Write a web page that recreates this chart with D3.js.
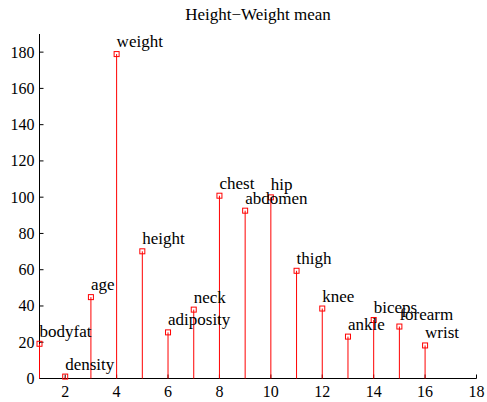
<!DOCTYPE html>
<html>
<head>
<meta charset="utf-8">
<script src="https://cdn.jsdelivr.net/npm/d3@7"></script>
</head>
<body style="margin:0;padding:0;background:#fff;">
<svg id="chart" width="487" height="402" style="display:block" font-family="Times New Roman"></svg>
<script>
const title = "Height\u2212Weight mean";
const names = ["bodyfat","density","age","weight","height","adiposity","neck","chest","abdomen","hip","thigh","knee","ankle","biceps","forearm","wrist"];
const means = [19.15,1.06,44.88,178.92,70.15,25.44,37.99,100.82,92.56,99.90,59.41,38.59,23.10,32.27,28.66,18.23];
const xTicks = [2,4,6,8,10,12,14,16,18];
const yTicks = [0,20,40,60,80,100,120,140,160,180];

const FONT = "Times New Roman";
const svg = d3.select("#chart");
const mLeft = 39.5, mRight = 476.5, mTop = 34, mBottom = 378.5;
const x = d3.scaleLinear().domain([1,18]).range([mLeft,mRight]);
const y = d3.scaleLinear().domain([0,190]).range([mBottom,mTop]);

// axis lines and ticks
svg.append("line").attr("x1",mLeft).attr("x2",mRight).attr("y1",mBottom).attr("y2",mBottom).attr("stroke","#000");
svg.append("line").attr("x1",mLeft).attr("x2",mLeft).attr("y1",mTop).attr("y2",mBottom).attr("stroke","#000");
svg.append("g").selectAll("line").data(xTicks).join("line")
  .attr("x1",d=>x(d)).attr("x2",d=>x(d)).attr("y1",mBottom).attr("y2",mBottom-4).attr("stroke","#000");
svg.append("g").selectAll("line").data(yTicks).join("line")
  .attr("x1",mLeft).attr("x2",mLeft+4).attr("y1",d=>y(d)).attr("y2",d=>y(d)).attr("stroke","#000");
svg.append("g").selectAll("text").data(xTicks).join("text")
  .attr("x",d=>x(d)).attr("y",mBottom+18).attr("text-anchor","middle")
  .attr("font-family",FONT).attr("font-size",16).attr("fill","#000").text(d=>String(d));
svg.append("g").selectAll("text").data(yTicks).join("text")
  .attr("x",mLeft-5).attr("y",d=>y(d)+5.5).attr("text-anchor","end")
  .attr("font-family",FONT).attr("font-size",16).attr("fill","#000").text(d=>String(d));

svg.append("text").attr("x",(mLeft+mRight)/2).attr("y",20).attr("text-anchor","middle")
  .attr("font-family",FONT).attr("font-size",17).attr("fill","#000").text(title);

const idx = d3.range(names.length);
svg.append("g").selectAll("line").data(idx).join("line")
  .attr("x1",i=>x(i+1)).attr("x2",i=>x(i+1))
  .attr("y1",y(0)).attr("y2",i=>y(means[i]))
  .attr("stroke","#ff0000").attr("stroke-width",1);
svg.append("g").selectAll("rect").data(idx).join("rect")
  .attr("x",i=>x(i+1)-2.5).attr("y",i=>y(means[i])-2.5)
  .attr("width",5).attr("height",5)
  .attr("fill","none").attr("stroke","#ff0000").attr("stroke-width",1);
svg.append("g").selectAll("text").data(idx).join("text")
  .attr("x",i=>x(i+1)).attr("y",i=>y(means[i])-7)
  .attr("font-family",FONT).attr("font-size",17).attr("fill","#000").text(i=>names[i]);
</script>
</body>
</html>
